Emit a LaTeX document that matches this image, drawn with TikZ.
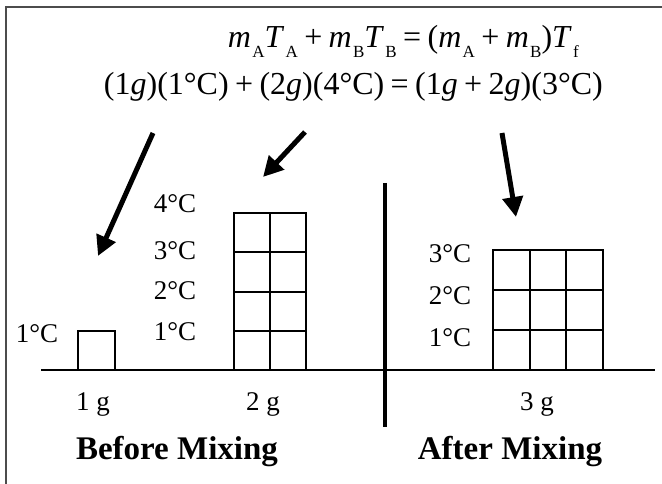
\documentclass[tikz,border=0pt]{standalone}
\usepackage{fontspec}
\setmainfont{Liberation Serif}
\usetikzlibrary{arrows.meta}
\newcommand\sbx[1]{\raisebox{-0.3em}{\fontsize{17}{17}\selectfont #1}}
\newcommand\mv[2]{\textit{#1}\kern0.04em\sbx{#2}}
\newcommand\op[1]{\kern0.2em#1\kern0.2em}
\tikzset{
  lbl/.style={inner sep=0pt, anchor=base, font=\fontsize{27}{30}\selectfont},
  ttl/.style={inner sep=0pt, anchor=base, font=\fontsize{33}{36}\selectfont\bfseries},
  eqn/.style={inner sep=0pt, anchor=base east, font=\fontsize{32}{38}\selectfont},
  boxline/.style={line width=2pt, line cap=rect},
  bigarrow/.style={line width=5pt, -{Triangle[length=20pt,width=20pt]}},
  frameline/.style={line width=2pt, draw=black!70}
}
\begin{document}
\begin{tikzpicture}[x=1pt,y=-1pt]
\useasboundingbox (0,0) rectangle (662,484);
% frame
\draw[frameline] (6,484) -- (6,7.5) -- (662,7.5);
% equations
\node[eqn] (eq1) at (579,48) {\mv{m}{A}\mv{T}{A}\op{+}\mv{m}{B}\mv{T}{B}\op{=}(\mv{m}{A}\op{+}\mv{m}{B})\mv{T}{f}};
\node[eqn] (eq2) at (603,95) {(1\textit{g})(1°C)\op{+}(2\textit{g})(4°C)\op{=}(1\textit{g}\op{+}2\textit{g})(3°C)};
% ground line and divider
\draw[line width=2pt] (41,370) -- (655,370);
\draw[line width=4.5pt] (385,183) -- (385,427);
% 1 g box
\draw[boxline] (78,331) rectangle (115,370);
% 2 g tower
\draw[boxline] (234,213) rectangle (306,370);
\draw[boxline] (270,213) -- (270,370);
\foreach \y in {252,291.5,331} \draw[boxline] (234,\y) -- (306,\y);
% 3 g grid
\draw[boxline] (493,250) rectangle (603,370);
\foreach \x in {530,566} \draw[boxline] (\x,250) -- (\x,370);
\foreach \y in {290,330} \draw[boxline] (493,\y) -- (603,\y);
% labels
\node[lbl] (t1a) at (37,342) {1°C};
\node[lbl] (t4) at (175,213) {4°C};
\node[lbl] (t3) at (175,259) {3°C};
\node[lbl] (t2) at (175,299) {2°C};
\node[lbl] (t1) at (175,340) {1°C};
\node[lbl] (s3) at (450,262) {3°C};
\node[lbl] (s2) at (450,304) {2°C};
\node[lbl] (s1) at (450,346) {1°C};
\node[lbl] (g1) at (93,410) {1 g};
\node[lbl] (g2) at (263,410) {2 g};
\node[lbl] (g3) at (537,410) {3 g};
\node[ttl] (before) at (177,459) {Before Mixing};
\node[ttl] (after) at (510,459) {After Mixing};
% arrows
\coordinate (a1s) at (153,133); \coordinate (a1e) at (98,256);
\coordinate (a2s) at (305,132); \coordinate (a2e) at (263,177);
\coordinate (a3s) at (502,133); \coordinate (a3e) at (516,217);
\draw[bigarrow] (a1s) -- (a1e);
\draw[bigarrow] (a2s) -- (a2e);
\draw[bigarrow] (a3s) -- (a3e);
\end{tikzpicture}
\end{document}
